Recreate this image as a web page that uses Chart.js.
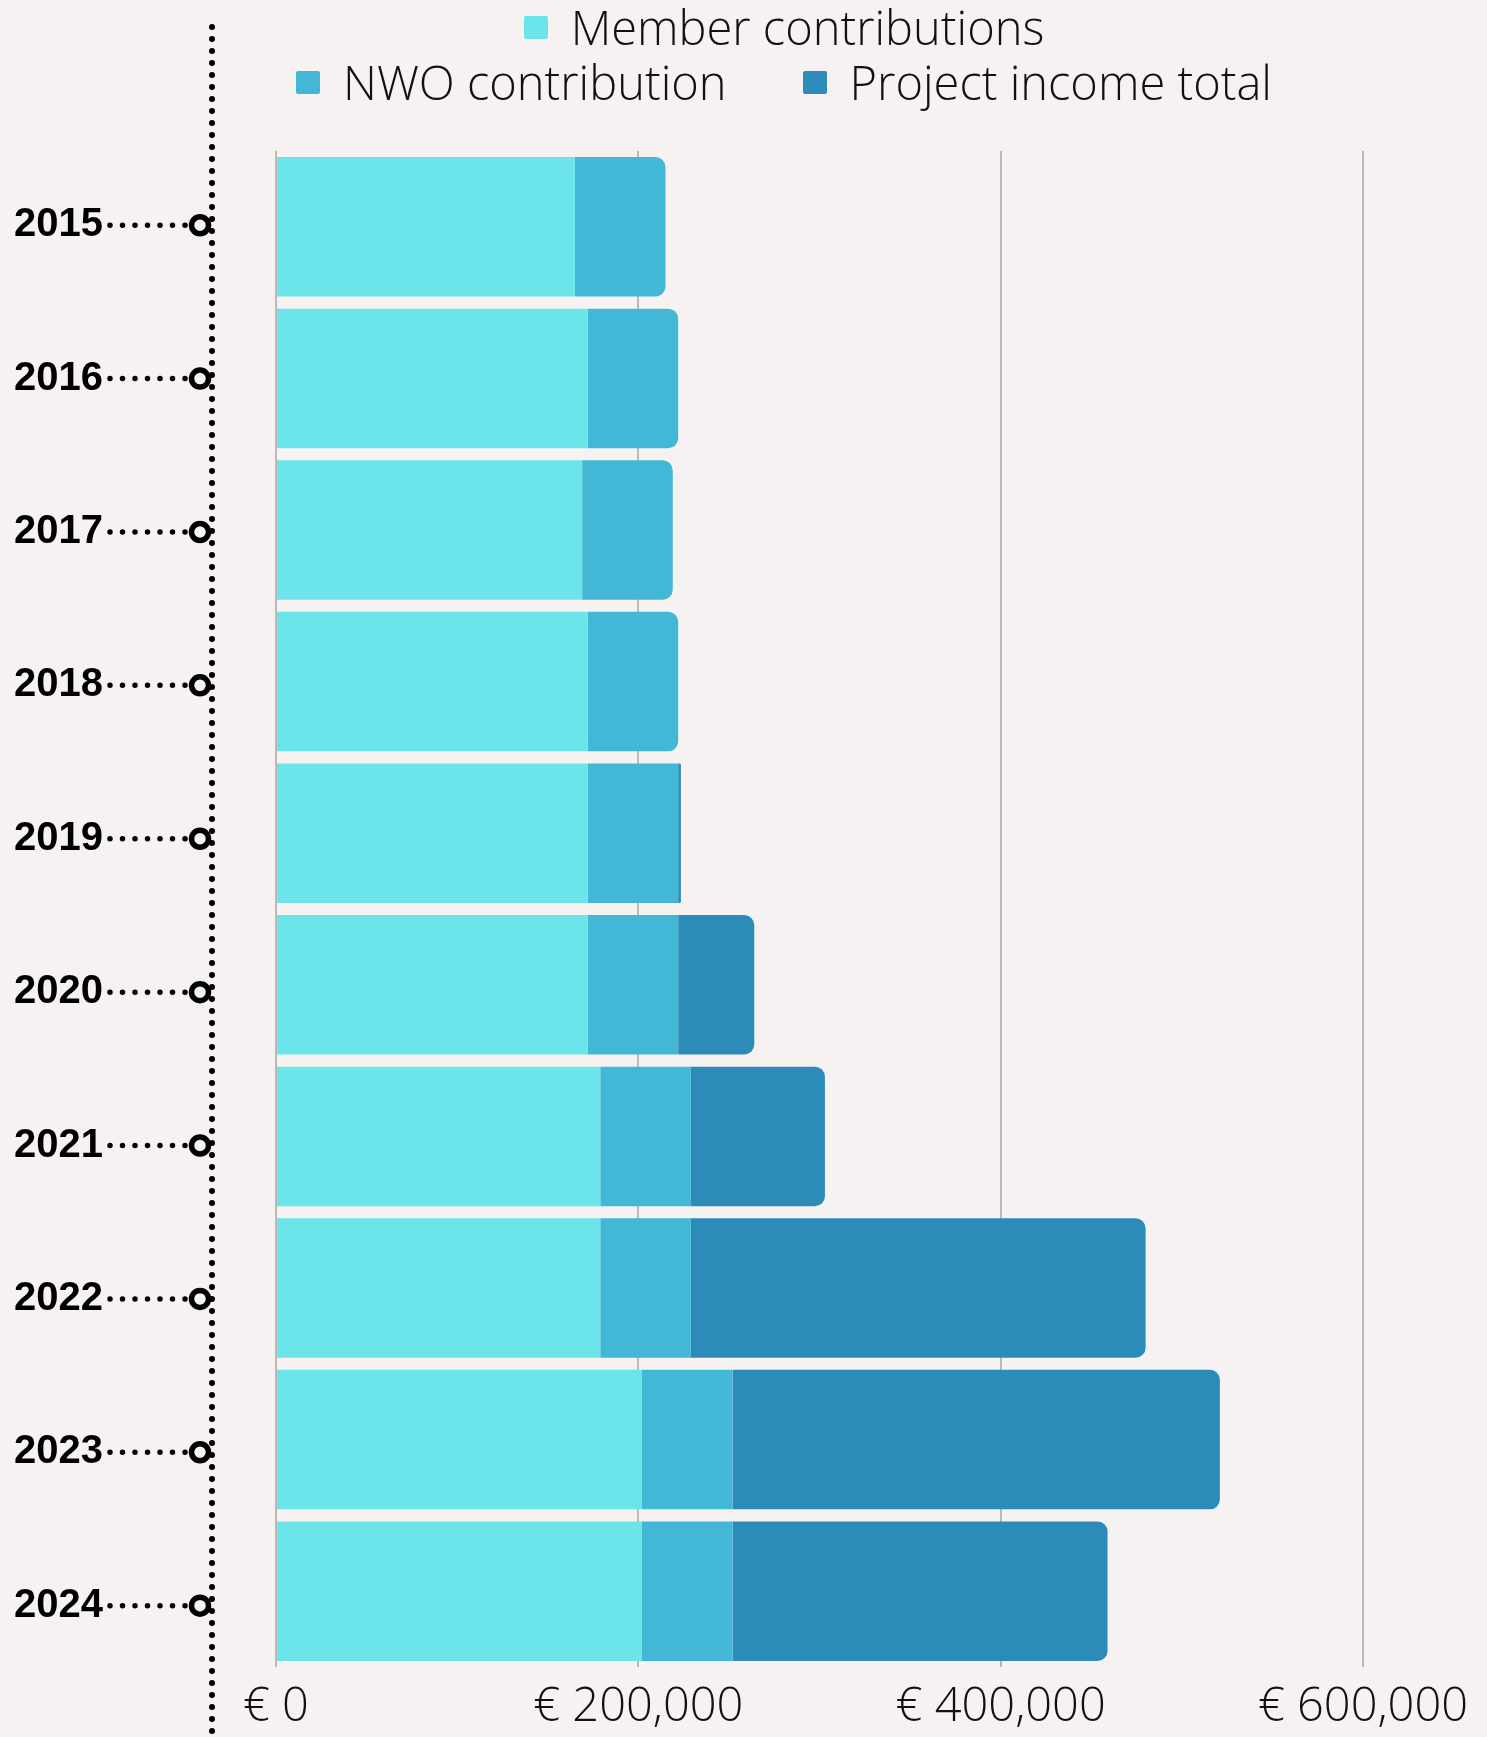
<!DOCTYPE html>
<html>
<head>
<meta charset="utf-8">
<title>Income per year</title>
<script src="https://cdn.jsdelivr.net/npm/chart.js@4.4.1/dist/chart.umd.min.js"></script>
<style>
    html, body { margin: 0; padding: 0; background: #f7f2f2; }
    #wrap { position: relative; width: 1487px; height: 1737px; overflow: hidden; }
    #chart { position: absolute; left: 0; top: 0; }
    #legend {
        position: absolute; top: 0; left: 284px; width: 1000px;
        display: flex; flex-wrap: wrap; justify-content: center; column-gap: 76px;
        font: 300 47px 'Open Sans', sans-serif; line-height: 55px; color: #111;
    }
    .lg-item { display: flex; align-items: center; white-space: nowrap; }
    .lg-box { width: 24px; height: 23px; border-radius: 2px; margin-right: 23px; }
    .lg-break { flex-basis: 100%; height: 0; }
</style>
</head>
<body>
<div id="wrap">
    <canvas id="chart" width="1487" height="1737"></canvas>
    <div id="legend"></div>
</div>
<script>
/* =============================================
   DATA
   ============================================= */
const years = ['2015', '2016', '2017', '2018', '2019', '2020', '2021', '2022', '2023', '2024'];
const memberContributions = [165000, 172000, 169000, 172000, 172000, 172000, 179000, 179000, 202000, 202000];
const nwoContribution     = [50000, 50000, 50000, 50000, 50000, 50000, 50000, 50000, 50000, 50000];
const projectIncomeTotal  = [0, 0, 0, 0, 1500, 42000, 74000, 251000, 269000, 207000];
const xTickValues = [0, 200000, 400000, 600000];

const seriesNames = ['Member contributions', 'NWO contribution', 'Project income total'];
const seriesColors = ['#6be5e9', '#42b8d6', '#2d8bb9'];

// timeline axis range (year stops run a bit looser than the bars)
const TL_MIN = -0.484;
const TL_MAX = 9.4;

// =================== TIMELINE DECORATION ===================
// dotted spine on the left, dotted leaders from each year to a ring
const timeline = {
    id: 'timeline',
    afterDraw(chart) {
        const { ctx } = chart;
        const yScale = chart.scales.yt;
        ctx.save();
        ctx.strokeStyle = '#000';
        ctx.lineCap = 'round';

        ctx.lineWidth = 6;
        ctx.setLineDash([0, 12]);
        ctx.beginPath();
        ctx.moveTo(212, 27);
        ctx.lineTo(212, chart.height + 6);
        ctx.stroke();

        years.forEach((_, i) => {
            const py = yScale.getPixelForValue(i);
            ctx.lineWidth = 5.5;
            ctx.setLineDash([0, 12.5]);
            ctx.beginPath();
            ctx.moveTo(110, py);
            ctx.lineTo(186, py);
            ctx.stroke();

            ctx.setLineDash([]);
            ctx.beginPath();
            ctx.arc(200, py, 8.5, 0, Math.PI * 2);
            ctx.stroke();
        });
        ctx.restore();
    }
};

// =================== CHART ===================
const datasets = [memberContributions, nwoContribution, projectIncomeTotal].map((values, i) => ({
    label: seriesNames[i],
    data: values,
    backgroundColor: seriesColors[i],
    borderWidth: 0,
    borderRadius: 10,
    borderSkipped: 'start',
    categoryPercentage: 0.92,
    barPercentage: 1.0
}));

const chart = new Chart(document.getElementById('chart'), {
    type: 'bar',
    data: { labels: years, datasets },
    options: {
        indexAxis: 'y',
        responsive: false,
        animation: false,
        layout: { padding: { top: 151, right: 124, bottom: 0, left: 0 } },
        plugins: {
            legend: { display: false },
            tooltip: { enabled: false }
        },
        scales: {
            x: {
                stacked: true,
                min: 0,
                max: 600000,
                afterBuildTicks: s => { s.ticks = xTickValues.map(v => ({ value: v })); },
                afterFit: s => { s.height = 70; },
                grid: { color: '#bfb8b8', lineWidth: 2, drawTicks: false },
                border: { display: false },
                ticks: {
                    padding: 14,
                    color: '#111',
                    maxRotation: 0,
                    autoSkip: false,
                    font: { family: "'Open Sans', sans-serif", size: 47, weight: 300, lineHeight: 1.15 },
                    callback: v => '€ ' + v.toLocaleString('en-US')
                }
            },
            // bar categories (labels shown on the timeline axis below)
            y: {
                stacked: true,
                afterFit: s => { s.width = 0; s.paddingTop = 0; s.paddingBottom = 0; },
                grid: { display: false, drawTicks: false },
                border: { display: false },
                ticks: { display: false }
            },
            // year stops of the timeline
            yt: {
                type: 'linear',
                position: 'left',
                reverse: true,
                offset: false,
                bounds: 'data',
                min: TL_MIN,
                max: TL_MAX,
                afterBuildTicks: s => {
                    s.ticks = years.map((_, i) => ({ value: i }));
                    s.min = TL_MIN;
                    s.max = TL_MAX;
                },
                afterFit: s => { s.width = 276; s.paddingTop = 0; s.paddingBottom = 0; },
                grid: { display: false, drawTicks: false, offset: false },
                border: { display: false },
                ticks: {
                    padding: 173,
                    color: '#000',
                    autoSkip: false,
                    font: { family: "'Liberation Sans', Arial, sans-serif", size: 40, weight: 'bold' },
                    callback: v => years[v]
                }
            }
        }
    },
    plugins: [timeline]
});

// =================== HTML LEGEND ===================
const legendEl = document.getElementById('legend');
chart.data.datasets.forEach((ds, i) => {
    const item = document.createElement('div');
    item.className = 'lg-item';
    const box = document.createElement('span');
    box.className = 'lg-box';
    box.style.background = ds.backgroundColor;
    const txt = document.createElement('span');
    txt.textContent = ds.label;
    item.appendChild(box);
    item.appendChild(txt);
    legendEl.appendChild(item);
    // first entry sits alone on the top line
    if (i === 0) {
        const br = document.createElement('div');
        br.className = 'lg-break';
        legendEl.appendChild(br);
    }
});
</script>
</body>
</html>
